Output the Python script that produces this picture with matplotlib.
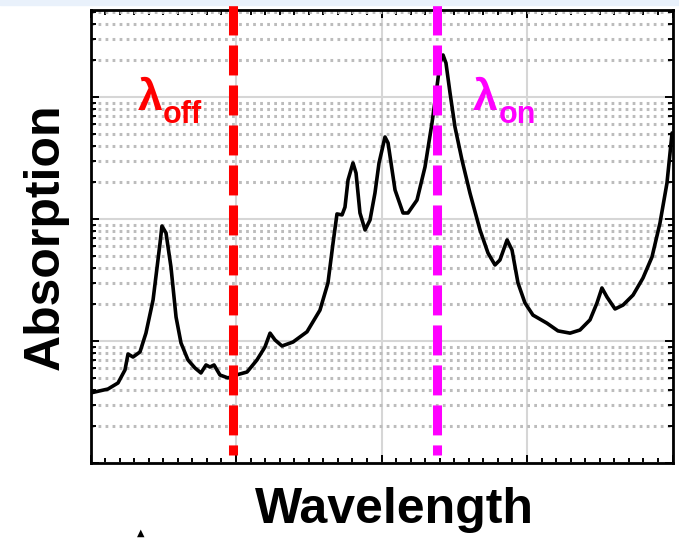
import numpy as np
import matplotlib
matplotlib.use('Agg')
import matplotlib.pyplot as plt
from matplotlib.ticker import LogLocator, MultipleLocator, NullFormatter
from matplotlib.patches import Rectangle

# Absorption spectrum (arbitrary wavelength units, log absorption)
wavelength = [0.0, 0.120, 0.189, 0.237, 0.258, 0.292, 0.340, 0.381, 0.430, 0.478,
              0.491, 0.519, 0.553, 0.588, 0.622, 0.670, 0.718, 0.759, 0.794, 0.821,
              0.849, 0.890, 0.945, 1.000, 1.076, 1.144, 1.199, 1.234, 1.268, 1.316,
              1.392, 1.488, 1.577, 1.632, 1.667, 1.694, 1.729, 1.749, 1.770, 1.804,
              1.825, 1.852, 1.887, 1.921, 1.955, 1.983, 2.024, 2.045, 2.093, 2.148,
              2.182, 2.244, 2.299, 2.347, 2.381, 2.402, 2.423, 2.443, 2.471, 2.505,
              2.553, 2.608, 2.677, 2.732, 2.780, 2.814, 2.863, 2.897, 2.938, 2.986,
              3.041, 3.137, 3.213, 3.296, 3.364, 3.433, 3.481, 3.515, 3.550, 3.605,
              3.660, 3.729, 3.797, 3.859, 3.914, 3.962, 3.997]
absorption = [3.75, 4.04, 4.53, 5.79, 7.82, 7.39, 8.13, 11.6, 21.7, 63.6,
              87.6, 76.8, 40.4, 15.7, 9.63, 6.99, 6.01, 5.47, 6.36, 6.12,
              6.36, 5.26, 4.98, 5.26, 5.57, 6.99, 8.93, 11.6, 10.2, 9.10,
              9.81, 11.9, 17.9, 29.9, 63.6, 110, 108, 125, 209, 288,
              238, 112, 81.3, 98.1, 163, 288, 470, 420, 173, 112,
              112, 143, 267, 612, 1208, 1900, 2209, 1900, 1079, 568,
              305, 163, 81.3, 52.6, 42.0, 46.1, 67.3, 55.7, 29.9, 20.5,
              16.3, 14.0, 12.1, 11.6, 12.3, 14.9, 20.5, 27.2, 22.9, 18.3,
              19.7, 23.8, 32.8, 48.8, 92.7, 197, 507]

lambda_off = 0.98
lambda_on = 2.38

fig = plt.figure(figsize=(6.79, 5.39), dpi=100)
fig.patches.append(Rectangle((0, 1 - 5 / 539), 1, 5 / 539, transform=fig.transFigure,
                             color='#e9f1fb', zorder=0))
ax = fig.add_axes([90.5 / 679, 1 - 463 / 539, 582 / 679, 453 / 539])

ax.set_yscale('log')
ax.set_xlim(0, 4)
ax.set_ylim(1, 10 ** 3.713)

ax.xaxis.set_major_locator(MultipleLocator(1))
ax.xaxis.set_minor_locator(MultipleLocator(0.1))
ax.yaxis.set_major_locator(LogLocator(base=10, numticks=10))
ax.yaxis.set_minor_locator(LogLocator(base=10, subs=np.arange(2, 10), numticks=20))
ax.xaxis.set_major_formatter(NullFormatter())
ax.yaxis.set_major_formatter(NullFormatter())
ax.yaxis.set_minor_formatter(NullFormatter())

ax.tick_params(which='both', direction='in', top=True, right=True, color='black')
ax.tick_params(which='major', length=6, width=1.4)
ax.tick_params(which='minor', length=3.5, width=1.4)
for sp in ax.spines.values():
    sp.set_linewidth(2.0)

# grid: solid major lines, dotted minor lines on y only
ax.grid(True, which='major', axis='both', color='#d6d6d6', lw=1.5, zorder=0)
ax.grid(True, which='minor', axis='y', color='#bcbcbc', lw=2.2,
        linestyle=(0, (0.9, 1.4)), zorder=0)
ax.set_axisbelow(True)

ax.plot(wavelength, absorption, color='black', lw=2.6, solid_joinstyle='round',
        solid_capstyle='round', zorder=3)

# laser wavelength markers, drawn top to bottom past the upper frame
tr = ax.get_xaxis_transform()
y_top = (463 - 5) / 453
y_bot = (463 - 455) / 453
for xv, col in [(lambda_off, '#ff0000'), (lambda_on, '#ff00ff')]:
    ax.plot([xv, xv], [y_top, y_bot], transform=tr, color=col, lw=6.5,
            dashes=(3.32, 1.11), solid_capstyle='butt', dash_capstyle='butt',
            clip_on=False, zorder=4)

lab = dict(fontfamily='Liberation Sans', fontweight='bold', va='baseline', ha='left',
           transform=ax.transAxes)
ax.text(0.0816, 0.779, 'λ', color='#ff0000', fontsize=32, **lab)
ax.text(0.1246, 0.7506, 'off', color='#ff0000', fontsize=22, **lab)
ax.text(0.657, 0.779, 'λ', color='#ff00ff', fontsize=32, **lab)
ax.text(0.702, 0.7506, 'on', color='#ff00ff', fontsize=22, **lab)

ax.set_xlabel('Wavelength', fontfamily='Liberation Sans', fontweight='bold',
              fontsize=36, labelpad=14)
ax.xaxis.set_label_coords(0.523, -0.052, transform=ax.transAxes)
ax.xaxis.label.set_va('top')
ax.set_ylabel('Absorption', fontfamily='Liberation Sans', fontweight='bold',
              fontsize=36, labelpad=12)

fig.text(141 / 679, 1 - 536 / 539, '▲', fontsize=7, ha='center', va='baseline')

fig.savefig('out.png', dpi=100)
